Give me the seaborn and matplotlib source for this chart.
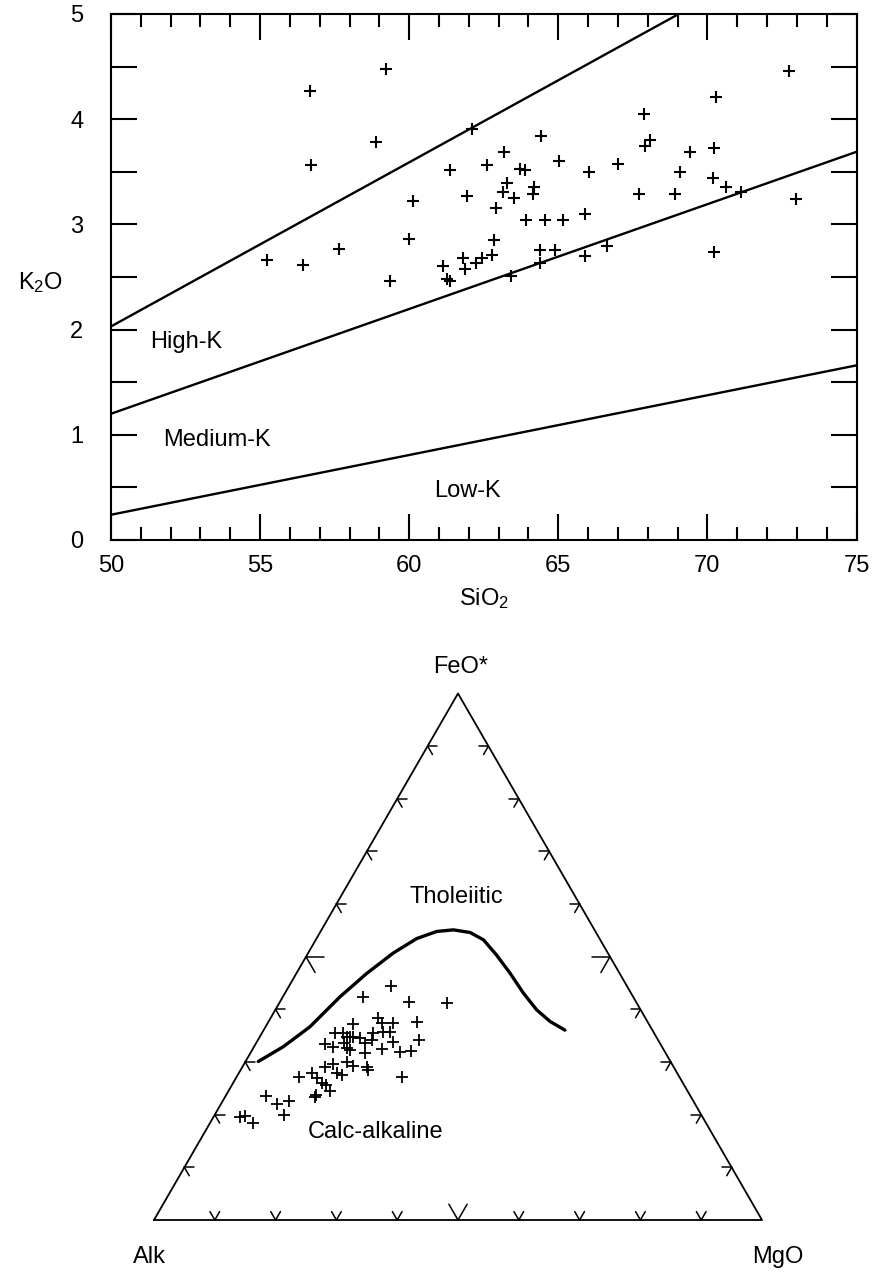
import numpy as np
import matplotlib
matplotlib.use("Agg")
import matplotlib.pyplot as plt
from matplotlib.ticker import MultipleLocator
import seaborn as sns

sns.set_style("white")
plt.rcParams["font.family"] = ["Liberation Sans", "DejaVu Sans"]
plt.rcParams["mathtext.fontset"] = "custom"
plt.rcParams["mathtext.rm"] = "Liberation Sans"
plt.rcParams["mathtext.default"] = "regular"
plt.rcParams["text.color"] = "black"
plt.rcParams["axes.labelcolor"] = "black"
plt.rcParams["xtick.color"] = "black"
plt.rcParams["ytick.color"] = "black"

# --- K2O vs SiO2 samples ---
sio2 = [59.23, 56.68, 58.89, 56.72, 62.12, 61.38, 62.61, 60.12, 61.93, 62.92,
        59.98, 62.86, 57.65, 55.22, 56.43, 59.36, 61.15, 61.26, 61.38, 61.82,
        61.88, 62.25, 62.44, 62.77,
        72.75, 70.29, 67.87, 67.90, 68.09, 69.41, 70.21, 69.07, 70.19, 70.62,
        71.11, 72.97, 68.93, 67.72, 67.00, 66.02, 65.04, 64.43, 63.19, 63.72,
        63.89, 63.28, 63.16, 63.50, 64.17, 64.15, 63.93, 64.54, 65.15, 65.91,
        64.37, 64.90, 65.91, 66.63, 64.37, 63.42, 70.21]
k2o = [4.48, 4.27, 3.78, 3.56, 3.91, 3.52, 3.56, 3.22, 3.27, 3.16,
       2.86, 2.85, 2.77, 2.66, 2.61, 2.46, 2.60, 2.48, 2.46, 2.68,
       2.58, 2.63, 2.68, 2.71,
       4.46, 4.21, 4.05, 3.75, 3.80, 3.69, 3.73, 3.50, 3.44, 3.36,
       3.31, 3.24, 3.29, 3.29, 3.57, 3.50, 3.60, 3.84, 3.69, 3.53,
       3.52, 3.39, 3.31, 3.25, 3.36, 3.29, 3.04, 3.04, 3.04, 3.10,
       2.76, 2.76, 2.70, 2.79, 2.63, 2.51, 2.74]

# boundary lines: K2O at SiO2 = 50 and 75
line_x = [50, 75]
upper_line = [2.03, 5.93]
mid_line = [1.20, 3.69]
low_line = [0.24, 1.66]

# --- AFM ternary samples (fractions) ---
alk = [0.3885, 0.4437, 0.3739, 0.3129, 0.3796, 0.3931, 0.4394, 0.4382, 0.4197, 0.4330,
       0.4451, 0.4621, 0.4870, 0.5244, 0.5114, 0.5090, 0.5041, 0.4981, 0.4887, 0.4710,
       0.4853, 0.5516, 0.5411, 0.5198, 0.5161, 0.5200, 0.4948, 0.4635, 0.4381, 0.4356,
       0.4171, 0.5732, 0.5568, 0.5327, 0.5259, 0.5604, 0.5536, 0.5046, 0.5050, 0.4572,
       0.6260, 0.6015, 0.5979, 0.5938, 0.5889, 0.5877, 0.6180, 0.6149, 0.6980, 0.6873,
       0.6641, 0.6865, 0.7611, 0.7516, 0.7383]
feo = [0.4444, 0.4241, 0.4134, 0.4115, 0.3767, 0.3419, 0.3831, 0.3747, 0.3735, 0.3577,
       0.3577, 0.3545, 0.3723, 0.3558, 0.3545, 0.3482, 0.3469, 0.3482, 0.3450, 0.3419,
       0.3355, 0.3343, 0.3279, 0.3355, 0.3229, 0.3261, 0.3165, 0.3241, 0.3387, 0.3197,
       0.3216, 0.2912, 0.2963, 0.3007, 0.2925, 0.2785, 0.2754, 0.2912, 0.2849, 0.2710,
       0.2710, 0.2785, 0.2691, 0.2608, 0.2564, 0.2456, 0.2343, 0.2374, 0.2355, 0.2196,
       0.2266, 0.1994, 0.1950, 0.1975, 0.1836]
mgo = [0.1671, 0.1322, 0.2127, 0.2756, 0.2437, 0.2650, 0.1775, 0.1871, 0.2068, 0.2093,
       0.1972, 0.1834, 0.1407, 0.1198, 0.1341, 0.1428, 0.1490, 0.1537, 0.1663, 0.1871,
       0.1792, 0.1141, 0.1310, 0.1447, 0.1610, 0.1539, 0.1887, 0.2124, 0.2232, 0.2447,
       0.2613, 0.1356, 0.1469, 0.1666, 0.1816, 0.1611, 0.1710, 0.2042, 0.2101, 0.2718,
       0.1030, 0.1200, 0.1330, 0.1454, 0.1547, 0.1667, 0.1477, 0.1477, 0.0665, 0.0931,
       0.1093, 0.1141, 0.0439, 0.0509, 0.0699]

# tholeiitic / calc-alkaline boundary
curve_alk = [0.678, 0.623, 0.560, 0.482, 0.416, 0.353, 0.301, 0.261, 0.232, 0.207,
             0.192, 0.185, 0.180, 0.177, 0.171, 0.160, 0.144]
curve_feo = [0.301, 0.329, 0.367, 0.424, 0.469, 0.507, 0.535, 0.548, 0.551, 0.546,
             0.532, 0.503, 0.469, 0.431, 0.399, 0.377, 0.361]
curve_mgo = [0.021, 0.048, 0.073, 0.094, 0.116, 0.140, 0.165, 0.191, 0.217, 0.247,
             0.276, 0.312, 0.351, 0.392, 0.430, 0.463, 0.496]

H = np.sqrt(3) / 2


def to_xy(a, f, m):
    a, f, m = np.asarray(a), np.asarray(f), np.asarray(m)
    s = a + f + m
    f, m = f / s, m / s
    return m + f / 2, f * H


fig = plt.figure(figsize=(8.76, 12.72), dpi=100)

# ---------------- top panel ----------------
ax = fig.add_axes([111 / 876, 1 - 540 / 1272, 745.5 / 876, 526 / 1272])
sns.lineplot(x=line_x, y=upper_line, color="black", linewidth=1.7, ax=ax)
sns.lineplot(x=line_x, y=mid_line, color="black", linewidth=1.7, ax=ax)
sns.lineplot(x=line_x, y=low_line, color="black", linewidth=1.7, ax=ax)
sns.scatterplot(x=sio2, y=k2o, marker="+", s=85, color="black", linewidth=1.5, ax=ax)

ax.set_xlim(50, 75)
ax.set_ylim(0, 5)
ax.xaxis.set_major_locator(MultipleLocator(5))
ax.xaxis.set_minor_locator(MultipleLocator(1))
ax.yaxis.set_major_locator(MultipleLocator(1))
ax.yaxis.set_minor_locator(MultipleLocator(0.5))
ax.tick_params(which="both", direction="in", bottom=True, left=True, top=True,
               right=True, width=1.5, labelsize=17, colors="black")
ax.tick_params(axis="x", which="major", length=19, pad=11)
ax.tick_params(axis="x", which="minor", length=9.5)
ax.tick_params(axis="y", which="both", length=19, pad=20)
for sp in ax.spines.values():
    sp.set_linewidth(1.5)
    sp.set_color("black")

ax.set_xlabel("SiO$_2$", fontsize=17, labelpad=6)
ax.set_ylabel("K$_2$O", fontsize=17, rotation=0, ha="center", va="center")
ax.yaxis.set_label_coords(-0.094, 0.489)

ax.text(51.3, 1.88, "High-K", fontsize=17, va="center")
ax.text(51.75, 0.95, "Medium-K", fontsize=17, va="center")
ax.text(60.85, 0.47, "Low-K", fontsize=17, va="center")

# ---------------- AFM ternary ----------------
ax2 = fig.add_axes([0, 0, 1, (1272 - 640) / 1272])
ax2.set_xlim(-154 / 608, (876 - 154) / 608)
ax2.set_ylim((1220 - 1272) / 608, (1220 - 640) / 608)
ax2.axis("off")

ax2.plot([0, 1, 0.5, 0], [0, 0, H, 0], color="black", linewidth=1.3)

# tick stubs every 10 %
for i in range(1, 10):
    t = i / 10
    L = 0.03 if i == 5 else 0.016
    # bottom edge
    px, py = t, 0
    for dx, dy in [(-0.5, H), (0.5, H)]:
        ax2.plot([px, px + L * dx], [py, py + L * dy], color="black", linewidth=1.1)
    # left edge
    px, py = t / 2, t * H
    for dx, dy in [(1, 0), (0.5, -H)]:
        ax2.plot([px, px + L * dx], [py, py + L * dy], color="black", linewidth=1.1)
    # right edge
    px, py = 1 - t / 2, t * H
    for dx, dy in [(-1, 0), (-0.5, -H)]:
        ax2.plot([px, px + L * dx], [py, py + L * dy], color="black", linewidth=1.1)

cx, cy = to_xy(curve_alk, curve_feo, curve_mgo)
sns.lineplot(x=cx, y=cy, sort=False, estimator=None, color="black", linewidth=2.4, ax=ax2)

tx, ty = to_xy(alk, feo, mgo)
sns.scatterplot(x=tx, y=ty, marker="+", s=65, color="black", linewidth=1.3, ax=ax2)

ax2.text(0.505, 0.9095, "FeO*", fontsize=17, ha="center", va="center")
ax2.text(-0.007, -0.061, "Alk", fontsize=17, ha="center", va="center")
ax2.text(1.026, -0.061, "MgO", fontsize=17, ha="center", va="center")
ax2.text(0.498, 0.531, "Tholeiitic", fontsize=17, ha="center", va="center")
ax2.text(0.365, 0.145, "Calc-alkaline", fontsize=17, ha="center", va="center")

fig.savefig("out.png", dpi=100)
